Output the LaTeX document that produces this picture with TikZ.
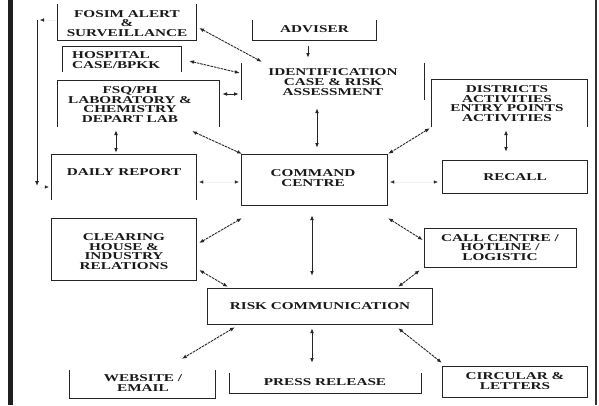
\documentclass[tikz,border=0pt]{standalone}
\usepackage{fontspec}
\setmainfont{Liberation Serif}[FakeStretch=1.45]
\usetikzlibrary{arrows.meta}
\begin{document}
\begin{tikzpicture}[x=1pt,y=-1pt,
  frame/.style={draw=none,rectangle,inner sep=0pt},
  edge/.style={draw=black!85,line width=1.1pt},
  lbl/.style={font=\fontsize{10.5}{9.6}\selectfont\bfseries,align=center,inner sep=0pt,text=black!90},
  tip/.style={line width=0.9pt,draw=black!85},
  both/.style={tip,{Latex[length=4.8pt,width=3.8pt]}-{Latex[length=4.8pt,width=3.8pt]}},
  bothdash/.style={both,dash pattern=on 2.6pt off 0.9pt},
  onehead/.style={tip,-{Latex[length=4.8pt,width=3.8pt]}},
  faint/.style={line width=0.4pt,draw=black!5,-{Latex[length=4pt,width=3.4pt,color=black!85,fill=black!85]}},
  fainttwo/.style={line width=0.4pt,draw=black!5,{Latex[length=4pt,width=3.4pt,color=black!85,fill=black!85]}-{Latex[length=4pt,width=3.4pt,color=black!85,fill=black!85]}}
]
\useasboundingbox (0,0) rectangle (599,405);
\fill[white] (0,0) rectangle (599,405);
% page edges
\fill[black!88] (8,0) rectangle (13,405);
\fill[black!80] (595,0) rectangle (597,405);

% boxes
\node[frame,minimum width=138pt,minimum height=36pt] (fosim) at (127,22) {};
\node[frame,minimum width=123pt,minimum height=20pt] (adviser) at (314.5,30) {};
\node[frame,minimum width=118pt,minimum height=25pt] (hospital) at (122,59.5) {};
\node[frame,minimum width=161pt,minimum height=46pt] (esq) at (138.5,104) {};
\node[frame,minimum width=182pt,minimum height=37pt] (ident) at (333,81.5) {};
\node[frame,minimum width=155pt,minimum height=47pt] (districts) at (509.5,103.5) {};
\node[frame,minimum width=144pt,minimum height=45pt] (daily) at (124,177.5) {};
\node[frame,minimum width=145pt,minimum height=50pt] (command) at (314.5,180) {};
\node[frame,minimum width=144pt,minimum height=32pt] (recall) at (515,177) {};
\node[frame,minimum width=144pt,minimum height=61pt] (clearing) at (124,249.5) {};
\node[frame,minimum width=151pt,minimum height=38pt] (call) at (500.5,248) {};
\node[frame,minimum width=224pt,minimum height=36pt] (risk) at (320,306.5) {};
\node[frame,minimum width=145pt,minimum height=28pt] (website) at (142.5,384) {};
\node[frame,minimum width=191pt,minimum height=20pt] (press) at (325.5,383) {};
\node[frame,minimum width=144pt,minimum height=30pt] (circular) at (515,382) {};

% visible box edges
\draw[edge] (fosim.north west) -- (fosim.south west) -- (fosim.south east) -- (fosim.north east);
\draw[edge] (adviser.north west) -- (adviser.south west) -- (adviser.south east) -- (adviser.north east);
\draw[edge] (hospital.south west) -- (hospital.north west) -- (hospital.north east) -- (hospital.south east);
\draw[edge] (esq.south west) -- (esq.north west) -- (esq.north east) -- (esq.south east);
\draw[edge] (ident.north west) -- (ident.south west);
\draw[edge] (ident.north east) -- (ident.south east);
\draw[edge] (districts.south west) -- (districts.north west) -- (districts.north east) -- (districts.south east);
\draw[edge] (daily.south west) -- (daily.north west) -- (daily.north east) -- (daily.south east);
\draw[edge] (command.north west) rectangle (command.south east);
\draw[edge] (recall.north west) rectangle (recall.south east);
\draw[edge] (clearing.north west) rectangle (clearing.south east);
\draw[edge] (call.north west) rectangle (call.south east);
\draw[edge] (risk.north west) rectangle (risk.south east);
\draw[edge] (website.north west) -- (website.south west) -- (website.south east) -- (website.north east);
\draw[edge] (press.north west) -- (press.south west) -- (press.south east) -- (press.north east);
\draw[edge] (circular.north west) rectangle (circular.south east);

% texts
\node[lbl] (fosimT) at (127,23.5) {FOSIM ALERT\\\&\\SURVEILLANCE};
\node[lbl] (adviserT) at (314.5,29.5) {ADVISER};
\node[lbl,align=left,anchor=west] (hospitalT) at (72,60) {HOSPITAL\\CASE/BPKK};
\node[lbl] (esqT) at (130,104.5) {FSQ/PH\\LABORATORY \&\\CHEMISTRY\\DEPART LAB};
\node[lbl] (identT) at (333,82) {IDENTIFICATION\\CASE \& RISK\\ASSESSMENT};
\node[lbl] (districtsT) at (507,103.5) {DISTRICTS\\ACTIVITIES\\ENTRY POINTS\\ACTIVITIES};
\node[lbl] (dailyT) at (124,172) {DAILY REPORT};
\node[lbl] (commandT) at (313,178) {COMMAND\\CENTRE};
\node[lbl] (recallT) at (515,177) {RECALL};
\node[lbl] (clearingT) at (124,251.5) {CLEARING\\HOUSE \&\\INDUSTRY\\RELATIONS};
\node[lbl] (callT) at (500,247.5) {CALL CENTRE /\\HOTLINE /\\LOGISTIC};
\node[lbl] (riskT) at (320,306) {RISK COMMUNICATION};
\node[lbl] (websiteT) at (143,383) {WEBSITE /\\EMAIL};
\node[lbl] (pressT) at (325,382) {PRESS RELEASE};
\node[lbl] (circularT) at (515,381) {CIRCULAR \&\\LETTERS};

% connectors
\draw[bothdash] ([shift={(3,6)}]fosim.east) -- ([shift={(20,-1)}]ident.north west);
\draw[bothdash] ([shift={(8,1.5)}]hospital.east) -- ([shift={(-2,-8.5)}]ident.west);
\draw[both] ([shift={(3,-10)}]esq.east) -- ([shift={(-3,12.5)}]ident.west);
\draw[onehead] ([shift={(-6.5,6)}]adviser.south) -- ([shift={(-25,-5)}]ident.north);
\draw[both] ([shift={(-16,8)}]ident.south) -- ([shift={(2.5,-7)}]command.north);
\draw[bothdash] ([shift={(-27,4)}]esq.south east) -- ([shift={(0,-1)}]command.north west);
\draw[bothdash] ([shift={(-2,1)}]districts.south west) -- ([shift={(1,-1)}]command.north east);
\draw[both] ([shift={(-22.5,3)}]esq.south) -- ([shift={(-8,-2)}]daily.north);
\draw[both] ([shift={(-3.5,3)}]districts.south) -- ([shift={(-9,-9)}]recall.north);
\draw[fainttwo] ([shift={(3,4.5)}]daily.east) -- ([shift={(-3,2)}]command.west);
\draw[fainttwo] ([shift={(3,2)}]command.east) -- ([shift={(-5,5)}]recall.west);
\draw[bothdash] ([shift={(3,-6.5)}]clearing.east) -- ([shift={(0,13)}]command.south west);
\draw[both] ([shift={(-2.5,10)}]command.south) -- ([shift={(-8,-12.5)}]risk.north);
\draw[bothdash] ([shift={(1,13)}]command.south east) -- ([shift={(-2,-8)}]call.west);
\draw[bothdash] ([shift={(3,20.5)}]clearing.east) -- ([shift={(20,-1.5)}]risk.north west);
\draw[bothdash] ([shift={(-5,3)}]call.south west) -- ([shift={(-34,-1.5)}]risk.north east);
\draw[bothdash] ([shift={(27,2.5)}]risk.south west) -- ([shift={(39.5,-11)}]website.north);
\draw[both] ([shift={(-8,3.5)}]risk.south) -- ([shift={(-13.5,-10)}]press.north);
\draw[bothdash] ([shift={(-34,3.5)}]risk.south east) -- ([shift={(-1,-4)}]circular.north west);

% return line on the left between the daily report and the alert box
\coordinate (loopTop) at (37,20);
\coordinate (loopBot) at (37,186);
\draw[faint] ([shift={(-2,-2)}]fosim.west) -- ([shift={(3,0)}]loopTop);
\draw[onehead] (loopTop) -- (loopBot);
\draw[faint] ([shift={(3,1)}]loopBot) -- ([shift={(-3,9.5)}]daily.west);
\end{tikzpicture}
\end{document}
